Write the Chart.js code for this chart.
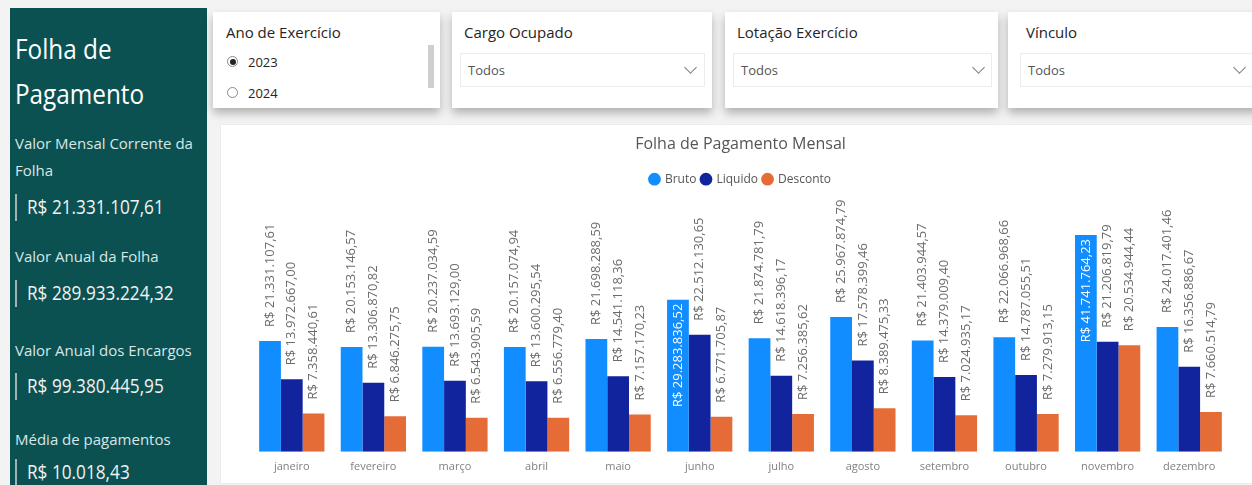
<!DOCTYPE html>
<html lang="pt-BR">
<head>
<meta charset="utf-8">
<script src="https://cdn.jsdelivr.net/npm/chart.js@4.4.1/dist/chart.umd.min.js"></script>
<style>
  html, body { margin:0; padding:0; }
  body { width:1252px; height:485px; background:#f3f3f3; position:relative; overflow:hidden; font-family:"Open Sans","Noto Sans",sans-serif; }
  .abs { position:absolute; white-space:nowrap; }
  #side { position:absolute; left:10px; top:8px; width:197px; height:490px; background:#0b5151; }
  .st { color:#ffffff; font-size:27px; line-height:45px; left:15px; transform:scaleX(0.9); transform-origin:left center; }
  .sl { color:#d8e6e6; font-size:15px; line-height:27px; left:15px; }
  .sv { color:#f2f2f2; font-size:20px; line-height:28px; left:27px; transform:scaleX(0.86); transform-origin:left center; }
  .sb { position:absolute; left:15px; width:2px; background:#9fb3b3; }
  .card { position:absolute; background:#fff; box-shadow:0 5px 9px rgba(0,0,0,0.28); }
  .ct { font-size:15px; color:#252423; line-height:20px; }
  .dd { position:absolute; border:1px solid #ececec; height:32px; background:#fff; }
  .dd span { position:absolute; left:7px; top:7px; font-size:13px; color:#555; }
  .chev { position:absolute; top:9px; width:8px; height:8px; border-right:1px solid #777; border-bottom:1px solid #777; transform:rotate(45deg); }
  .radio { position:absolute; width:9px; height:9px; border:1px solid #888; border-radius:50%; background:#fff; }
  .radio.on::after { content:""; position:absolute; left:1.5px; top:1.5px; width:6px; height:6px; border-radius:50%; background:#222; }
  .rl { font-size:13px; color:#252423; line-height:18px; }
  #chartCard { position:absolute; left:220px; top:124px; width:1040px; height:358px; background:#fff; border:1px solid #ececec; }
  #chartWrap { position:absolute; left:222px; top:125px; width:1030px; height:357px; }
</style>
</head>
<body>
<div id="side"></div>
<div class="abs st" style="top:26px;">Folha de</div>
<div class="abs st" style="top:71px;">Pagamento</div>
<div class="abs sl" style="top:130px;">Valor Mensal Corrente da</div>
<div class="abs sl" style="top:157px;">Folha</div>
<div class="sb" style="top:194px;height:27px;"></div>
<div class="abs sv" style="top:193px;">R$ 21.331.107,61</div>
<div class="abs sl" style="top:243px;">Valor Anual da Folha</div>
<div class="sb" style="top:280px;height:27px;"></div>
<div class="abs sv" style="top:279px;">R$ 289.933.224,32</div>
<div class="abs sl" style="top:337px;">Valor Anual dos Encargos</div>
<div class="sb" style="top:373px;height:27px;"></div>
<div class="abs sv" style="top:372px;">R$ 99.380.445,95</div>
<div class="abs sl" style="top:426px;">Média de pagamentos</div>
<div class="sb" style="top:459px;height:27px;"></div>
<div class="abs sv" style="top:458px;">R$ 10.018,43</div>

<div class="card" style="left:213px;top:12px;width:227px;height:96px;"></div>
<div class="abs ct" style="left:226px;top:22px;">Ano de Exercício</div>
<div class="radio on" style="left:227px;top:56px;"></div>
<div class="abs rl" style="left:248px;top:53px;">2023</div>
<div class="radio" style="left:227px;top:87px;"></div>
<div class="abs rl" style="left:248px;top:84px;">2024</div>
<div class="abs" style="left:428px;top:45px;width:6px;height:43px;background:#cfcfcf;"></div>

<div class="card" style="left:452px;top:12px;width:260px;height:96px;"></div>
<div class="abs ct" style="left:464px;top:22px;">Cargo Ocupado</div>
<div class="dd" style="left:460px;top:53px;width:243px;"><span>Todos</span><div class="chev" style="left:225px;"></div></div>

<div class="card" style="left:725px;top:12px;width:273px;height:96px;"></div>
<div class="abs ct" style="left:737px;top:22px;">Lotação Exercício</div>
<div class="dd" style="left:733px;top:53px;width:257px;"><span>Todos</span><div class="chev" style="left:240px;"></div></div>

<div class="card" style="left:1008px;top:12px;width:260px;height:96px;"></div>
<div class="abs ct" style="left:1026px;top:22px;">Vínculo</div>
<div class="dd" style="left:1020px;top:53px;width:240px;"><span>Todos</span><div class="chev" style="left:214px;"></div></div>

<div id="chartCard"></div>
<div id="chartWrap"><canvas id="c"></canvas></div>

<script>
const categories = ["janeiro","fevereiro","março","abril","maio","junho","julho","agosto","setembro","outubro","novembro","dezembro"];
const bruto = [21331107.61, 20153146.57, 20237034.59, 20157074.94, 21698288.59, 29283836.52, 21874781.79, 25967874.79, 21403944.57, 22066968.66, 41741764.23, 24017401.46];
const liquido = [13972667.00, 13306870.82, 13693129.00, 13600295.54, 14541118.36, 22512130.65, 14618396.17, 17578399.46, 14379009.40, 14787055.51, 21206819.79, 16356886.67];
const desconto = [7358440.61, 6846275.75, 6543905.59, 6556779.40, 7157170.23, 6771705.87, 7256385.62, 8389475.33, 7024935.17, 7279913.15, 20534944.44, 7660514.79];
const seriesNames = ["Bruto", "Liquido", "Desconto"];
const colors = ["#118DFF", "#12239E", "#E66C37"];
const yMax = 49400000;

const fmt = new Intl.NumberFormat("pt-BR", { minimumFractionDigits: 2, maximumFractionDigits: 2 });

const labelPlugin = {
  id: "barLabels",
  afterDatasetsDraw(chart) {
    const ctx = chart.ctx;
    const area = chart.chartArea;
    ctx.save();
    ctx.font = "13px 'Open Sans', 'Noto Sans', sans-serif";
    ctx.textBaseline = "middle";
    chart.data.datasets.forEach((ds, di) => {
      const meta = chart.getDatasetMeta(di);
      meta.data.forEach((bar, i) => {
        const txt = "R$ " + fmt.format(ds.data[i]);
        const w = ctx.measureText(txt).width;
        const gap = 14;
        ctx.save();
        if (bar.y - gap - w < area.top) {
          ctx.translate(bar.x, bar.y + 4);
          ctx.rotate(-Math.PI / 2);
          ctx.textAlign = "right";
          ctx.fillStyle = "#ffffff";
        } else {
          ctx.translate(bar.x, bar.y - gap);
          ctx.rotate(-Math.PI / 2);
          ctx.textAlign = "left";
          ctx.fillStyle = "#6b6b6b";
        }
        ctx.fillText(txt, 0, 0);
        ctx.restore();
      });
    });
    ctx.restore();
  }
};

new Chart(document.getElementById("c"), {
  type: "bar",
  data: {
    labels: categories,
    datasets: [
      { label: seriesNames[0], data: bruto, backgroundColor: colors[0] },
      { label: seriesNames[1], data: liquido, backgroundColor: colors[1] },
      { label: seriesNames[2], data: desconto, backgroundColor: colors[2] }
    ]
  },
  options: {
    responsive: true,
    maintainAspectRatio: false,
    animation: false,
    layout: { padding: { left: 29, right: 22, top: 0, bottom: 9 } },
    datasets: { bar: { categoryPercentage: 0.8, barPercentage: 1.0, borderWidth: 0 } },
    scales: {
      x: {
        grid: { display: false },
        border: { display: false },
        ticks: { color: "#808080", font: { family: "'Open Sans', sans-serif", size: 11 }, padding: 0 }
      },
      y: { display: false, min: 0, max: yMax }
    },
    plugins: {
      title: {
        display: true,
        text: "Folha de Pagamento Mensal",
        color: "#555",
        font: { family: "'Open Sans', sans-serif", size: 16, weight: "normal" },
        padding: { top: 10, bottom: 14 }
      },
      legend: {
        display: true,
        labels: {
          usePointStyle: true,
          pointStyle: "circle",
          boxWidth: 9,
          boxHeight: 9,
          padding: 5,
          color: "#555",
          font: { family: "'Open Sans', sans-serif", size: 12 }
        }
      },
      tooltip: { enabled: false }
    }
  },
  plugins: [labelPlugin]
});
</script>
</body>
</html>
